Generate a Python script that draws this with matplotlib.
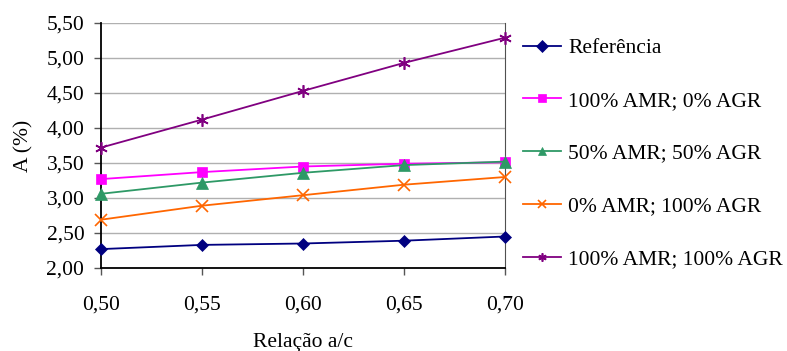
import matplotlib
matplotlib.use("Agg")
import matplotlib.pyplot as plt
from matplotlib.ticker import FixedLocator

plt.rcParams['font.family'] = ['Liberation Serif', 'DejaVu Serif']

x = [0.50, 0.55, 0.60, 0.65, 0.70]
referencia = [2.27, 2.33, 2.35, 2.39, 2.45]
amr100_agr0 = [3.27, 3.37, 3.45, 3.49, 3.51]
amr50_agr50 = [3.06, 3.22, 3.36, 3.47, 3.52]
amr0_agr100 = [2.69, 2.89, 3.04, 3.19, 3.30]
amr100_agr100 = [3.72, 4.12, 4.53, 4.93, 5.29]

labels = ["Referência", "100% AMR; 0% AGR", "50% AMR; 50% AGR",
          "0% AMR; 100% AGR", "100% AMR; 100% AGR"]
xticks = [0.50, 0.55, 0.60, 0.65, 0.70]
yticks = [2.0, 2.5, 3.0, 3.5, 4.0, 4.5, 5.0, 5.5]

def fmt(v):
    return f"{v:.2f}".replace('.', ',')

FS = 15.5
fig = plt.figure(figsize=(7.87, 3.51), dpi=100)
ax = fig.add_axes([101/787, 1-268/351, (505-101)/787, (268-23)/351])

series = [referencia, amr100_agr0, amr50_agr50, amr0_agr100, amr100_agr100]
colors = ['#000080', '#FF00FF', '#2E9966', '#FF6600', '#800080']
markers = ['D', 's', '^', 'x', (6, 2, 0)]
msizes = [6.5, 7, 8, 8, 9]
for s, c, m, ms, lab in zip(series, colors, markers, msizes, labels):
    ax.plot(x, s, color=c, marker=m, markersize=ms, lw=1.3, label=lab,
            markeredgewidth=1.2 if m == 'x' or isinstance(m, tuple) else 0.5,
            clip_on=False, zorder=3)

ax.set_xlim(0.50, 0.70)
ax.set_ylim(2.0, 5.5)
ax.xaxis.set_major_locator(FixedLocator(xticks))
ax.yaxis.set_major_locator(FixedLocator(yticks))
ax.set_xticklabels([fmt(v) for v in xticks])
ax.set_yticklabels([fmt(v) for v in yticks])
ax.tick_params(axis='both', labelsize=FS, direction='out', length=5, width=1, color='#555555')
ax.tick_params(axis='x', pad=15)
ax.tick_params(axis='y', pad=7)
ax.grid(axis='y', color='#b0b0b0', lw=1)
ax.set_axisbelow(True)
ax.spines['top'].set_visible(False)
ax.spines['right'].set_color('#505050')
ax.spines['left'].set_linewidth(1.3)
ax.spines['bottom'].set_linewidth(1.3)
ax.set_ylabel("A (%)", fontsize=FS, labelpad=9)
ax.set_xlabel("Relação a/c", fontsize=FS, labelpad=13)

leg = fig.legend(loc='upper left', bbox_to_anchor=(523/787, 1-38/351), frameon=False,
                 fontsize=FS, labelspacing=1.52, handlelength=1.77, handletextpad=0.33,
                 borderaxespad=0, borderpad=0)
for h in leg.legend_handles:
    h.set_markersize(6)

fig.savefig("out.png", dpi=100)
